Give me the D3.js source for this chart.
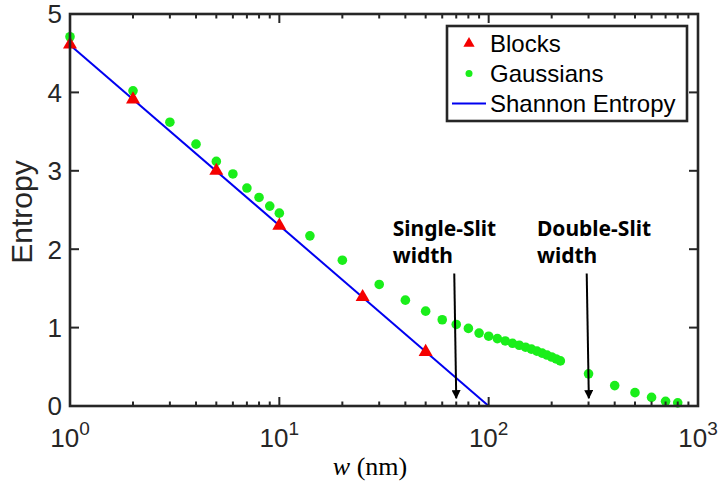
<!DOCTYPE html>
<html>
<head>
<meta charset="utf-8">
<script src="https://cdn.jsdelivr.net/npm/d3@7"></script>
<style>
  body { margin: 0; background: #fff; }
  svg { display: block; }
</style>
</head>
<body>
<div id="chart"></div>
<script>
// ─── Data ───────────────────────────────────────────────────────────────────
const blockW = [1, 2, 5, 10, 25, 50];
const blockS = [4.61, 3.91, 3.0, 2.30, 1.39, 0.69];

const gaussW = [1, 2, 3, 4, 5, 6, 7, 8, 9, 10, 14, 20, 30, 40, 50, 60, 70, 80, 90,
                100, 110, 120, 130, 140, 150, 160, 170, 180, 190, 200, 210, 220,
                300, 400, 500, 600, 700, 800];
const gaussS = [4.71, 4.02, 3.62, 3.34, 3.12, 2.96, 2.78, 2.66, 2.55, 2.46, 2.17, 1.86, 1.55, 1.35, 1.21, 1.10, 1.04, 0.99, 0.93,
                0.89, 0.86, 0.83, 0.80, 0.775, 0.75, 0.725, 0.70, 0.675, 0.65, 0.625, 0.60, 0.575,
                0.41, 0.26, 0.17, 0.11, 0.06, 0.04];

const shannonW = [1, 100];
const shannonS = [4.605, 0];

const yTicks = [0, 1, 2, 3, 4, 5];
const xDecades = [0, 1, 2, 3];   // exponents of 10

const legendLabels = ['Blocks', 'Gaussians', 'Shannon Entropy'];

// text anchor (w,S), arrow top (w,S), arrow tip (w,S)
const annotations = [
    { lines: ['Single-Slit', 'width'], textW: 34.8, textS: 2.17, w0: 68.5, s0: 1.69, w1: 70, s1: 0.10 },
    { lines: ['Double-Slit', 'width'], textW: 170, textS: 2.17, w0: 294, s0: 1.69, w1: 301, s1: 0.10 }
];

// ─── Layout ─────────────────────────────────────────────────────────────────
const W = 720, H = 483;
const margin = { left: 70, top: 14, right: 22, bottom: 77 };
const iw = W - margin.left - margin.right;
const ih = H - margin.top - margin.bottom;

const svg = d3.select('#chart').append('svg').attr('width', W).attr('height', H);
const g = svg.append('g').attr('transform', `translate(${margin.left},${margin.top})`);

const x = d3.scaleLog().domain([1, 1000]).range([0, iw]);
const y = d3.scaleLinear().domain([0, 5]).range([ih, 0]);

const AXIS = '#262626';
const tickFont = 'Liberation Sans, Arial, sans-serif';

// ─── Shannon line ───────────────────────────────────────────────────────────
g.append('path')
    .datum(shannonW.map((w, i) => [w, shannonS[i]]))
    .attr('d', d3.line().x(d => x(d[0])).y(d => y(d[1])))
    .attr('fill', 'none')
    .attr('stroke', '#0000f0')
    .attr('stroke-width', 2);

// ─── Gaussians ──────────────────────────────────────────────────────────────
g.selectAll('.gauss')
    .data(gaussW.map((w, i) => [w, gaussS[i]]))
    .enter().append('circle')
    .attr('class', 'gauss')
    .attr('cx', d => x(d[0]))
    .attr('cy', d => y(d[1]))
    .attr('r', 4.8)
    .attr('fill', '#1aee1a');

// ─── Blocks (triangles) ─────────────────────────────────────────────────────
const tri = d3.symbol().type(d3.symbolTriangle).size(85);
g.selectAll('.block')
    .data(blockW.map((w, i) => [w, blockS[i]]))
    .enter().append('path')
    .attr('class', 'block')
    .attr('transform', d => `translate(${x(d[0])},${y(d[1])})`)
    .attr('d', tri)
    .attr('fill', '#f50000');

// ─── Annotations ────────────────────────────────────────────────────────────
svg.append('defs').append('marker')
    .attr('id', 'arrowhead')
    .attr('viewBox', '0 0 10 10')
    .attr('refX', 9).attr('refY', 5)
    .attr('markerWidth', 4.5).attr('markerHeight', 4.5)
    .attr('orient', 'auto')
    .append('path').attr('d', 'M0,0 L10,5 L0,10 z').attr('fill', '#000');

annotations.forEach(a => {
    g.append('line')
        .attr('x1', x(a.w0)).attr('y1', y(a.s0))
        .attr('x2', x(a.w1)).attr('y2', y(a.s1))
        .attr('stroke', '#000')
        .attr('stroke-width', 2)
        .attr('marker-end', 'url(#arrowhead)');
    const t = g.append('text')
        .attr('x', x(a.textW)).attr('y', y(a.textS))
        .style('font-family', 'Noto Sans, sans-serif')
        .style('font-weight', 'bold')
        .style('font-size', '21px')
        .style('fill', '#000');
    a.lines.forEach((ln, i) => {
        t.append('tspan').attr('x', x(a.textW)).attr('dy', i === 0 ? 0 : 27.3).text(ln);
    });
});

// ─── Axes box + ticks ───────────────────────────────────────────────────────
const major = 9, minor = 4.5;
const xMinor = [];
xDecades.slice(0, -1).forEach(e => { for (let k = 2; k <= 9; k++) xMinor.push(k * Math.pow(10, e)); });
const xMajor = xDecades.map(e => Math.pow(10, e));

const ticks = g.append('g').attr('stroke', AXIS).attr('stroke-width', 2);
xMajor.forEach(v => {
    ticks.append('line').attr('x1', x(v)).attr('x2', x(v)).attr('y1', ih).attr('y2', ih - major);
    ticks.append('line').attr('x1', x(v)).attr('x2', x(v)).attr('y1', 0).attr('y2', major);
});
xMinor.forEach(v => {
    ticks.append('line').attr('x1', x(v)).attr('x2', x(v)).attr('y1', ih).attr('y2', ih - minor);
    ticks.append('line').attr('x1', x(v)).attr('x2', x(v)).attr('y1', 0).attr('y2', minor);
});
yTicks.forEach(v => {
    ticks.append('line').attr('x1', 0).attr('x2', major).attr('y1', y(v)).attr('y2', y(v));
    ticks.append('line').attr('x1', iw).attr('x2', iw - major).attr('y1', y(v)).attr('y2', y(v));
});

g.append('rect')
    .attr('x', 0).attr('y', 0).attr('width', iw).attr('height', ih)
    .attr('fill', 'none').attr('stroke', AXIS).attr('stroke-width', 2.6);

// tick labels
g.selectAll('.ylab')
    .data(yTicks)
    .enter().append('text')
    .attr('x', -8)
    .attr('y', d => y(d))
    .attr('dy', '0.36em')
    .attr('text-anchor', 'end')
    .style('font-family', tickFont)
    .style('font-size', '26px')
    .style('fill', AXIS)
    .text(d => d);

const xl = g.selectAll('.xlab')
    .data(xDecades)
    .enter().append('text')
    .attr('x', d => x(Math.pow(10, d)))
    .attr('y', ih + 41)
    .attr('text-anchor', 'middle')
    .style('font-family', tickFont)
    .style('font-size', '26px')
    .style('fill', AXIS);
xl.append('tspan').text('10');
xl.append('tspan').attr('dy', -12).style('font-size', '19px').text(d => d);

// axis titles
g.append('text')
    .attr('transform', `translate(-38,${ih / 2 + 2}) rotate(-90)`)
    .attr('text-anchor', 'middle')
    .style('font-family', tickFont)
    .style('font-size', '30px')
    .style('fill', AXIS)
    .text('Entropy');

const xt = g.append('text')
    .attr('x', iw / 2 - 14)
    .attr('y', ih + 69)
    .attr('text-anchor', 'middle')
    .style('font-family', 'Liberation Serif, Times New Roman, serif')
    .style('font-size', '26px')
    .style('fill', '#000');
xt.append('tspan').style('font-style', 'italic').text('w');
xt.append('tspan').text(' (nm)');

// ─── Legend ─────────────────────────────────────────────────────────────────
const lg = g.append('g').attr('transform', `translate(${447 - margin.left},${26 - margin.top})`);
lg.append('rect')
    .attr('width', 240).attr('height', 95)
    .attr('fill', '#fff').attr('stroke', AXIS).attr('stroke-width', 2.6);

legendLabels.forEach((lab, i) => {
    const cy = 17.5 + i * 30;
    if (i === 0) {
        lg.append('path').attr('transform', `translate(22,${cy})`)
            .attr('d', d3.symbol().type(d3.symbolTriangle).size(55)).attr('fill', '#f50000');
    } else if (i === 1) {
        lg.append('circle').attr('cx', 22).attr('cy', cy).attr('r', 3.5).attr('fill', '#1aee1a');
    } else {
        lg.append('line').attr('x1', 5).attr('x2', 39).attr('y1', cy).attr('y2', cy)
            .attr('stroke', '#0000f0').attr('stroke-width', 2);
    }
    lg.append('text')
        .attr('x', 43).attr('y', cy).attr('dy', '0.36em')
        .style('font-family', tickFont)
        .style('font-size', '24px')
        .style('fill', '#000')
        .text(lab);
});
</script>
</body>
</html>
